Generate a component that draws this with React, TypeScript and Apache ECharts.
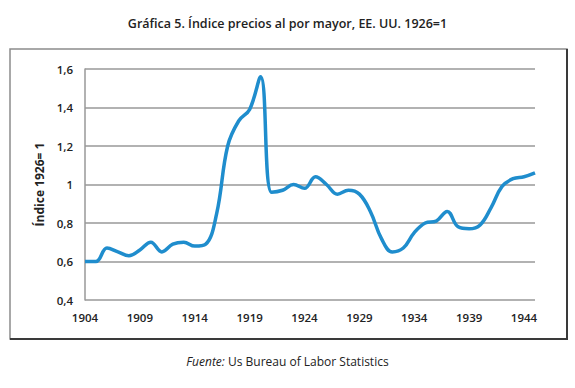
import React, { useEffect, useRef } from "react";
import * as echarts from "echarts";

const years: string[] = [];
for (let y = 1904; y <= 1945; y++) years.push(String(y));

const priceIndex = [
  0.60, 0.60, 0.67, 0.65, 0.63, 0.66, 0.70, 0.65, 0.69, 0.70,
  0.68, 0.69, 0.85, 1.20, 1.33, 1.39, 1.56, 0.96, 0.97, 1.00,
  0.98, 1.04, 1.00, 0.95, 0.97, 0.95, 0.86, 0.72, 0.65, 0.67,
  0.75, 0.80, 0.81, 0.86, 0.78, 0.77, 0.79, 0.88, 0.99, 1.03,
  1.04, 1.06,
];

const titleText = "Gráfica 5. Índice precios al por mayor, EE. UU. 1926=1";
const yAxisName = "Índice 1926= 1";

export default function App() {
  const ref = useRef<HTMLDivElement>(null);
  useEffect(() => {
    if (!ref.current) return;
    const chart = echarts.init(ref.current, null, { renderer: "svg" });
    const font = "'Open Sans', 'Noto Sans', sans-serif";
    chart.setOption({
      animation: false,
      backgroundColor: "#ffffff",
      title: {
        text: titleText,
        left: "center",
        top: 12,
        textStyle: { fontFamily: font, fontSize: 12.5, fontWeight: 600, color: "#222" },
      },
      graphic: [
        {
          type: "rect",
          shape: { x: 10, y: 49, width: 557, height: 290 },
          style: { fill: "#fff", stroke: "#8c8c8c", lineWidth: 1.5 },
          z: -10,
        },
        {
          type: "polyline",
          shape: { points: [[567, 49], [567, 339], [10, 339]] },
          style: { stroke: "#3a3a3a", lineWidth: 2, fill: null },
          z: -9,
        },
        {
          type: "text",
          left: "center",
          top: 355,
          style: {
            rich: {
              i: { fontFamily: font, fontSize: 12, fontStyle: "italic", fill: "#222" },
              n: { fontFamily: font, fontSize: 12, fill: "#222" },
            },
            text: "{i|Fuente:}{n| Us Bureau of Labor Statistics}",
          },
        },
      ],
      grid: { left: 85, right: 40, top: 69, bottom: 88, containLabel: false },
      xAxis: {
        type: "category",
        data: years,
        boundaryGap: false,
        axisLine: { show: false },
        axisTick: { show: false },
        axisLabel: {
          interval: 4,
          margin: 11,
          fontFamily: font,
          fontSize: 11.5,
          fontWeight: 600,
          color: "#222",
        },
        splitLine: { show: false },
      },
      yAxis: {
        type: "value",
        min: 0.4,
        max: 1.6,
        interval: 0.2,
        name: yAxisName,
        nameLocation: "middle",
        nameGap: 38,
        nameRotate: 90,
        nameTextStyle: { fontFamily: font, fontSize: 12, fontWeight: 700, color: "#222" },
        axisLine: { show: true, lineStyle: { color: "#999", width: 1.5 } },
        axisTick: { show: false },
        axisLabel: {
          margin: 12,
          fontFamily: font,
          fontSize: 11.5,
          fontWeight: 600,
          color: "#222",
          formatter: (v: number) => String(Math.round(v * 10) / 10).replace(".", ","),
        },
        splitLine: { show: true, lineStyle: { color: "#999", width: 1.5 } },
      },
      series: [
        {
          type: "line",
          data: priceIndex,
          smooth: 0.4,
          symbol: "none",
          lineStyle: { color: "#1f8dcd", width: 3.5 },
        },
      ],
    });
    return () => chart.dispose();
  }, []);
  return (
    <div
      ref={ref}
      style={{ position: "fixed", left: 0, top: 0, width: 575, height: 388 }}
    />
  );
}
